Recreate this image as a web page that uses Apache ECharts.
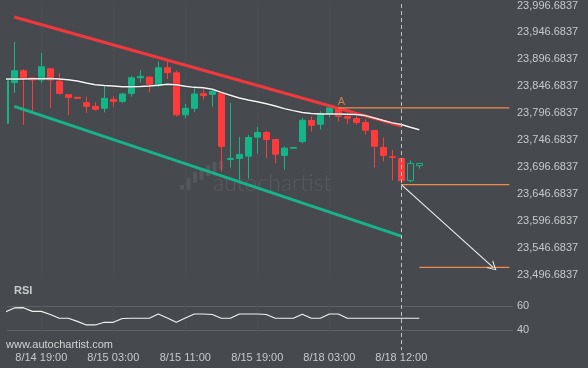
<!DOCTYPE html>
<html><head><meta charset="utf-8">
<script src="https://cdn.jsdelivr.net/npm/echarts@6/dist/echarts.min.js"></script>
<style>html,body{margin:0;padding:0;background:#464a4f;}#c{width:588px;height:368px;}</style>
</head><body><div id="c"></div>
<script>
// ---- data ----
// candles: [open, close, low, high], one per hourly bar (index = bar number)
const candles = [
  [23777.8, 23856.9, 23775.9, 23856.9],
  [23853.7, 23875.4, 23834.1, 23929.1],
  [23875.4, 23861.1, 23774.8, 23878.5],
  [23862.4, 23858.2, 23799.5, 23862.4],
  [23858.2, 23882.8, 23852.6, 23908.2],
  [23879.1, 23858.2, 23806.3, 23879.1],
  [23856.3, 23833.4, 23831.0, 23871.1],
  [23831.0, 23826.0, 23793.4, 23831.0],
  [23826.0, 23824.1, 23823.0, 23826.6],
  [23816.1, 23809.3, 23797.1, 23827.2],
  [23809.3, 23803.7, 23801.3, 23816.7],
  [23805.6, 23824.1, 23798.2, 23848.9],
  [23822.2, 23818.5, 23808.2, 23827.8],
  [23818.5, 23832.2, 23815.6, 23834.1],
  [23833.4, 23862.4, 23827.2, 23866.1],
  [23862.4, 23864.8, 23853.7, 23876.7],
  [23863.7, 23850.0, 23835.2, 23864.3],
  [23848.2, 23881.0, 23844.5, 23892.6],
  [23881.0, 23871.7, 23860.0, 23893.9],
  [23871.7, 23793.4, 23790.2, 23875.4],
  [23793.4, 23805.6, 23787.1, 23813.7],
  [23805.6, 23832.2, 23798.2, 23846.3],
  [23832.8, 23829.1, 23821.7, 23841.5],
  [23831.5, 23837.1, 23808.7, 23841.5],
  [23834.1, 23734.7, 23688.4, 23834.6],
  [23710.6, 23712.4, 23695.2, 23815.6],
  [23712.4, 23719.8, 23673.0, 23752.6],
  [23716.7, 23751.3, 23674.8, 23756.3],
  [23751.9, 23760.6, 23721.1, 23771.1],
  [23760.6, 23747.6, 23713.0, 23764.3],
  [23747.6, 23720.4, 23703.7, 23747.6],
  [23718.0, 23731.5, 23691.5, 23734.7],
  [23731.5, 23732.8, 23731.5, 23732.8],
  [23743.9, 23783.4, 23740.2, 23787.8],
  [23782.8, 23774.1, 23762.4, 23790.2],
  [23776.0, 23796.3, 23766.1, 23800.0],
  [23796.3, 23806.3, 23788.9, 23812.4],
  [23806.3, 23790.8, 23781.0, 23806.3],
  [23790.8, 23787.1, 23776.7, 23797.1],
  [23786.5, 23779.1, 23774.8, 23793.9],
  [23779.1, 23764.8, 23756.3, 23785.2],
  [23764.3, 23735.2, 23695.2, 23764.3],
  [23732.8, 23718.0, 23706.9, 23751.3],
  [23715.6, 23714.3, 23671.7, 23728.5],
  [23712.4, 23671.1, 23668.5, 23712.4],
  [23671.1, 23703.2, 23668.0, 23708.7],
  [23703.2, 23698.9, 23693.4, 23703.2]
];
const hollowBars = [45, 46];
const maValues = [
  23860.0, 23860.0, 23860.2, 23860.6, 23860.7, 23860.9, 23860.2, 23858.7, 23856.3, 23852.6,
  23849.5, 23848.0, 23847.0, 23845.8, 23845.8, 23846.1, 23847.0, 23848.5, 23850.4, 23849.5,
  23846.7, 23844.5, 23843.9, 23841.1, 23835.2, 23830.0, 23824.8, 23820.9, 23817.6, 23813.9,
  23810.0, 23805.0, 23801.3, 23797.9, 23796.1, 23795.2, 23794.8, 23794.8, 23794.4, 23793.9,
  23792.0, 23787.4, 23782.8, 23778.5, 23775.4, 23770.4, 23765.6
];
const rsiValues = [
  55.1, 58.4, 58.6, 55.6, 55.6, 53.0, 49.9, 49.9, 47.3, 44.4,
  44.4, 46.6, 46.6, 49.7, 49.9, 49.9, 49.9, 53.4, 50.1, 46.6,
  50.1, 53.4, 53.4, 53.0, 49.9, 49.9, 53.4, 53.4, 53.4, 53.0,
  49.9, 49.9, 49.9, 53.2, 49.9, 49.9, 53.4, 53.4, 49.9, 49.9,
  49.9, 49.9, 49.9, 49.9, 49.9, 49.9, 49.9
];
const xTickIndex = [4, 12, 20, 28, 36, 44];
const xTickLabels = ['8/14 19:00', '8/15 03:00', '8/15 11:00', '8/15 19:00', '8/18 03:00', '8/18 12:00'];
const priceMin = 23496.6837, priceMax = 23996.6837, priceStep = 50;
const rsiMin = 40, rsiMax = 60, rsiStep = 20;
const resistanceLine = [[1, 23975.4], [44, 23772.6]];
const supportLine = [[1, 23809.3], [44, 23568.0]];
const levelA = [[37, 23806.3], [56, 23806.3]];
const levelEntry = [[44, 23663.7], [56, 23663.7]];
const levelTarget = [[46, 23510.0], [56, 23510.0]];
const forecastArrow = [[44, 23663.7], [54.2, 23510.0]];
const pointA = [37, 23806.3];
const currentBar = 44;

// ---- styles ----
const BG = '#464a4f', UP = '#16b587', DOWN = '#ff3b3b', ORANGE = '#f08a4b';
const TXT = '#c6c8ca';
const FONT = "'Liberation Sans', Arial, sans-serif";

function fmtPrice(v) {
  const k = Math.round((v - priceMin) / priceStep);
  const p = priceMin + k * priceStep;
  const s = p.toFixed(4).split('.');
  return s[0].replace(/\B(?=(\d{3})+(?!\d))/g, ',') + '.' + s[1];
}

const candleData = candles.map((c, i) => {
  const v = [i, c[0], c[1], c[2], c[3]];
  if (hollowBars.indexOf(i) >= 0) {
    return { value: v, itemStyle: { color: BG, color0: BG, borderColor: UP, borderColor0: DOWN } };
  }
  return v;
});

const xMin = 0.189, xMax = 56.41;
const chart = echarts.init(document.getElementById('c'), null, { renderer: 'canvas' });

const option = {
  backgroundColor: BG,
  animation: false,
  textStyle: { fontFamily: FONT },
  grid: [
    { left: 7, right: 75, top: 4.5, height: 270 },
    { left: 7, right: 75, top: 306, height: 24.3 }
  ],
  xAxis: [
    { type: 'value', gridIndex: 0, min: xMin, max: xMax,
      axisLine: { show: false }, axisLabel: { show: false },
      axisTick: { show: false, customValues: xTickIndex },
      splitLine: { show: true, lineStyle: { color: '#4b4f55', width: 1 } } },
    { type: 'value', gridIndex: 1, min: xMin, max: xMax,
      axisLine: { show: false },
      axisTick: { show: false, customValues: xTickIndex },
      splitLine: { show: true, lineStyle: { color: '#4b4f55', width: 1 } },
      axisLabel: { show: true, customValues: xTickIndex, margin: 22, color: TXT, fontSize: 11, fontFamily: FONT,
        formatter: v => { const k = xTickIndex.indexOf(Math.round(v)); return k >= 0 ? xTickLabels[k] : ''; } } }
  ],
  yAxis: [
    { type: 'value', gridIndex: 0, position: 'right', min: priceMin, max: priceMax, interval: priceStep,
      axisLine: { show: false }, axisTick: { show: false }, splitLine: { show: false },
      axisLabel: { margin: 4, color: TXT, fontSize: 11, fontFamily: FONT, formatter: fmtPrice } },
    { type: 'value', gridIndex: 1, position: 'right', min: rsiMin, max: rsiMax, interval: rsiStep,
      axisLine: { show: false }, axisTick: { show: false },
      splitLine: { show: true, lineStyle: { color: '#5e6267', width: 1 } },
      axisLabel: { margin: 4, color: TXT, fontSize: 11, fontFamily: FONT } }
  ],
  series: [
    { type: 'candlestick', xAxisIndex: 0, yAxisIndex: 0, barWidth: 7, clip: true, z: 2,
      itemStyle: { color: UP, color0: DOWN, borderColor: UP, borderColor0: DOWN, borderWidth: 1 },
      data: candleData },
    { type: 'line', xAxisIndex: 0, yAxisIndex: 0, symbol: 'none', z: 3,
      lineStyle: { color: '#f2383c', width: 3 }, data: resistanceLine },
    { type: 'line', xAxisIndex: 0, yAxisIndex: 0, symbol: 'none', z: 3,
      lineStyle: { color: '#17b489', width: 3 }, data: supportLine },
    { type: 'line', xAxisIndex: 0, yAxisIndex: 0, symbol: 'none', z: 4,
      lineStyle: { color: '#f4f4f4', width: 1.5, shadowColor: 'rgba(0,0,0,0.35)', shadowBlur: 2 },
      data: maValues.map((v, i) => [i, v]) },
    { type: 'line', xAxisIndex: 0, yAxisIndex: 0, symbol: 'none', z: 3,
      lineStyle: { color: ORANGE, width: 1.2 }, data: levelA },
    { type: 'line', xAxisIndex: 0, yAxisIndex: 0, symbol: 'none', z: 3,
      lineStyle: { color: ORANGE, width: 1.2 }, data: levelEntry,
      markLine: { silent: true, animation: false,
        symbol: ['none', 'path://M5,0 L10,10 L8.8,10 L5,2.4 L1.2,10 L0,10 Z'], symbolSize: [10, 9],
        label: { show: false },
        lineStyle: { color: '#e8e8e8', width: 1.2, type: 'solid' },
        data: [[{ coord: forecastArrow[0] }, { coord: forecastArrow[1] }]] } },
    { type: 'line', xAxisIndex: 0, yAxisIndex: 0, symbol: 'none', z: 3,
      lineStyle: { color: ORANGE, width: 1.2 }, data: levelTarget },
    { type: 'scatter', xAxisIndex: 0, yAxisIndex: 0, symbolSize: 0, z: 5,
      label: { show: true, position: 'top', distance: 0, offset: [3, 0], formatter: 'A',
        color: ORANGE, fontSize: 11, fontFamily: FONT },
      data: [pointA] },
    { type: 'line', xAxisIndex: 1, yAxisIndex: 1, symbol: 'none', clip: false,
      lineStyle: { color: '#f0f0f0', width: 1.2 },
      data: rsiValues.map((v, i) => [i, v]) }
  ]
};
chart.setOption(option);

// current-bar marker & decorations
const cx = chart.convertToPixel({ xAxisIndex: 0 }, currentBar);
const logoBars = [[180, 185, 5], [186.5, 178, 12], [193, 172, 11], [199.5, 168, 12], [206, 165, 11], [212.5, 162, 10], [219, 161, 9]];
const graphics = [
  // left-edge mask: the first bar is cut by the plot edge
  { type: 'rect', silent: true, z: 3,
    shape: { x: 0, y: 0, width: 7, height: 280 }, style: { fill: BG } },
  { type: 'line', silent: true, z: 10,
    shape: { x1: Math.round(cx) + 0.5, y1: 4, x2: Math.round(cx) + 0.5, y2: 350 },
    style: { stroke: '#bfc1c3', lineWidth: 1, lineDash: [4, 3] } },
  { type: 'text', left: 213, top: 172, silent: true, z: 0,
    style: { text: 'autochartist', fill: '#575b60', font: "300 23px 'Lato', 'Liberation Sans', sans-serif" } },
  { type: 'text', left: 6, top: 339, silent: true,
    style: { text: 'www.autochartist.com', fill: '#d2d4d6', font: "11px 'Liberation Sans', Arial, sans-serif" } },
  { type: 'text', left: 14, top: 285, silent: true,
    style: { text: 'RSI', fill: '#c8cacc', font: "bold 11px 'Liberation Sans', Arial, sans-serif" } }
];
logoBars.forEach(b => graphics.push({ type: 'rect', silent: true, z: 0,
  shape: { x: b[0], y: b[1], width: 4, height: b[2], r: 1 }, style: { fill: '#54585d' } }));
chart.setOption({ graphic: graphics });
</script>
</body></html>
